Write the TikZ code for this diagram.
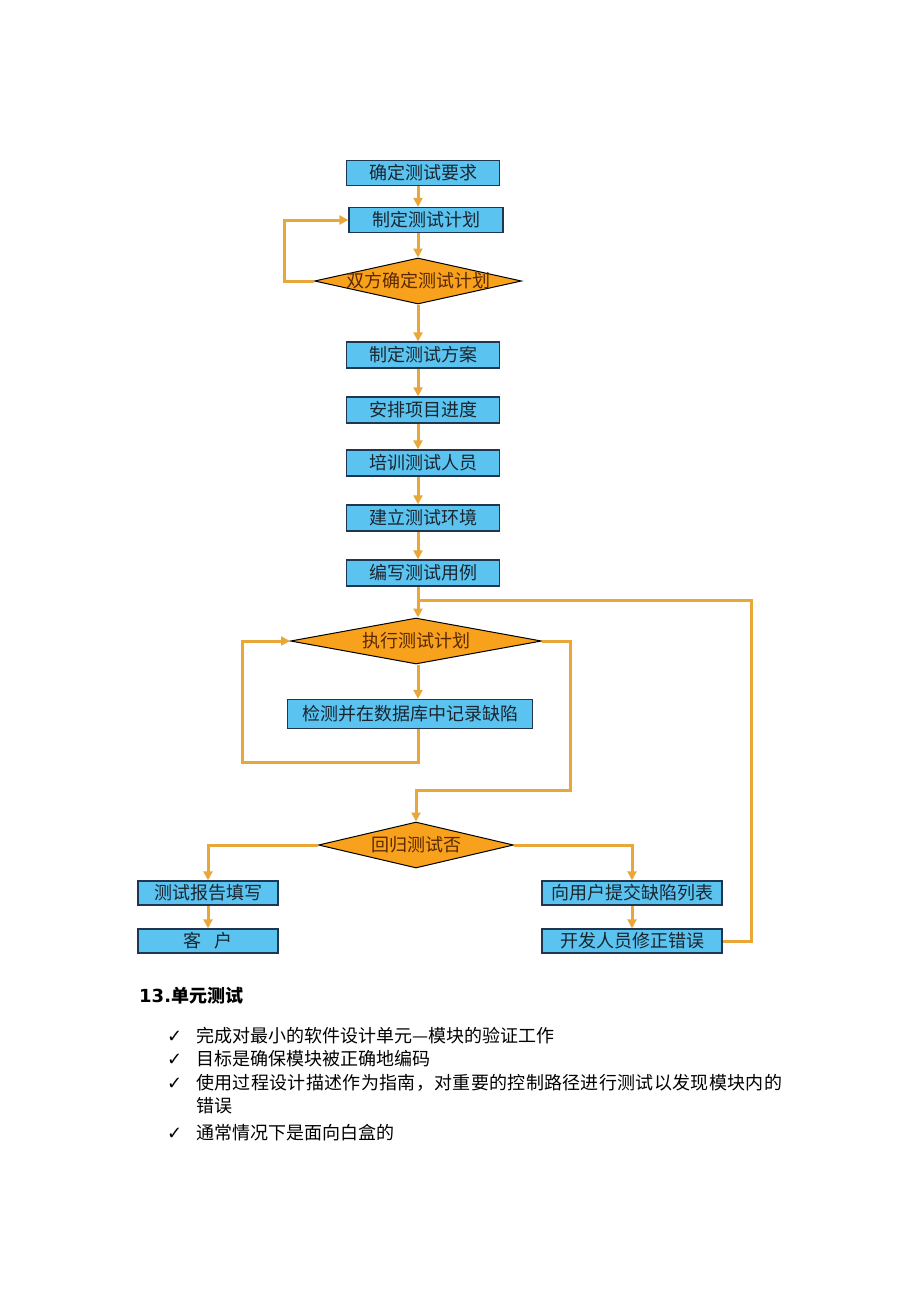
\documentclass[tikz,border=0pt]{standalone}
\usepackage{fontspec}
\newfontfamily\cjk{Noto Sans CJK SC}
\newfontfamily\cjkwide[LetterSpace=1.8]{Noto Sans CJK SC}
\newfontfamily\dejavu{DejaVu Sans}
\usetikzlibrary{shapes.geometric,arrows.meta}
\definecolor{boxblue}{HTML}{5BC3EF}
\definecolor{boxline}{HTML}{1F3550}
\definecolor{dorange}{HTML}{F8A11C}
\definecolor{arr}{HTML}{E9A73A}
\definecolor{dtext}{HTML}{5A2800}
\definecolor{btext}{HTML}{1A2530}
\begin{document}
\begin{tikzpicture}[x=1pt,y=-1pt,
  stepbox/.style={draw=boxline, line width=1.3pt, fill=boxblue, minimum height=25pt, inner sep=0pt,
    font=\cjk\fontsize{18}{18}\selectfont, text=btext},
  decision/.style={diamond, draw=black, line width=1pt, fill=dorange, inner sep=0pt, minimum height=46pt},
  dlabel/.style={font=\cjk\fontsize{18}{18}\selectfont, text=dtext},
  flow/.style={draw=arr, line width=3pt, -{Triangle[length=9pt,width=9pt]}},
  plain/.style={draw=arr, line width=3pt},
  bullet/.style={anchor=base west, font=\cjk\fontsize{18}{18}\selectfont, text=black, inner sep=0pt},
  tick/.style={anchor=base west, font=\dejavu\bfseries\fontsize{18}{18}\selectfont, text=black, inner sep=0pt}]
\useasboundingbox (0,0) rectangle (920,1302);
\coordinate (sp) at (418,0);

\node[stepbox, minimum width=153pt] (b1) at (423,173) {确定测试要求};
\node[stepbox, minimum width=154pt] (b2) at (426,220) {制定测试计划};
\node[decision, minimum width=207pt] (d1) at (418,281) {};
\node[dlabel] at (d1.center) {双方确定测试计划};
\node[stepbox, minimum width=153pt, minimum height=26pt] (b3) at (423,355) {制定测试方案};
\node[stepbox, minimum width=153pt, minimum height=26pt] (b4) at (423,410) {安排项目进度};
\node[stepbox, minimum width=153pt, minimum height=26pt] (b5) at (423,463) {培训测试人员};
\node[stepbox, minimum width=153pt, minimum height=26pt] (b6) at (423,518) {建立测试环境};
\node[stepbox, minimum width=153pt, minimum height=26pt] (b7) at (423,573) {编写测试用例};
\node[decision, minimum width=251pt] (d2) at (416,641) {};
\node[dlabel] at (d2.center) {执行测试计划};
\node[stepbox, minimum width=245pt, minimum height=29pt] (b8) at (410,714) {检测并在数据库中记录缺陷};
\node[decision, minimum width=195pt] (d3) at (416,845) {};
\node[dlabel] at (d3.center) {回归测试否};
\node[stepbox, minimum width=140pt, minimum height=24pt] (b9) at (208,893) {测试报告填写};
\node[stepbox, minimum width=140pt, minimum height=24pt] (b10) at (208,941) {客\hspace{14pt}户};
\node[stepbox, minimum width=180pt, minimum height=24pt] (b11) at (632,893) {向用户提交缺陷列表};
\node[stepbox, minimum width=180pt, minimum height=24pt] (b12) at (632,941) {开发人员修正错误};

% main spine
\draw[flow] (b1.south -| sp) -- (b2.north -| sp);
\draw[flow] (b2.south -| sp) -- (d1.north);
\draw[flow] (d1.west) -- ++(-30,0) |- (b2.west);
\draw[flow] (d1.south) -- (b3.north -| d1.south);
\draw[flow] (b3.south -| sp) -- (b4.north -| sp);
\draw[flow] (b4.south -| sp) -- (b5.north -| sp);
\draw[flow] (b5.south -| sp) -- (b6.north -| sp);
\draw[flow] (b6.south -| sp) -- (b7.north -| sp);
\draw[flow] (b7.south -| sp) -- (d2.north -| sp);
\draw[flow] (d2.south -| sp) -- (b8.north -| sp);

% inner loop
\coordinate (ll) at (242,762);
\draw[flow] (b8.south -| sp) |- (ll) |- (d2.west);

% to regression decision
\coordinate (rr) at (570,790);
\draw[flow] (d2.east) -| (rr) -| (d3.north);

% branches
\draw[flow] (d3.west) -| (b9.north);
\draw[flow] (d3.east) -| (b11.north);
\draw[flow] (b9.south) -- (b10.north);
\draw[flow] (b11.south) -- (b12.north);

% feedback
\coordinate (fb) at (751,600);
\coordinate (fj) at (418,600);
\draw[plain] (b12.east) -| (fb) -- (fj);

% text section
\node[anchor=base west, inner sep=0pt, font=\fontsize{18}{18}\selectfont] (h) at (139,1002)
  {{\dejavu\bfseries 13.}{\cjk\bfseries 单元测试}};
\node[tick] (t1) at (167,1042) {✓};
\node[bullet] (l1) at (196,1042) {完成对最小的软件设计单元—模块的验证工作};
\node[tick] (t2) at (167,1065) {✓};
\node[bullet] (l2) at (196,1065) {目标是确保模块被正确地编码};
\node[tick] (t3) at (167,1089) {✓};
\node[bullet, font=\cjkwide\fontsize{18}{18}\selectfont] (l3) at (196,1089) {使用过程设计描述作为指南，对重要的控制路径进行测试以发现模块内的};
\node[bullet] (l3b) at (196,1112) {错误};
\node[tick] (t4) at (167,1139) {✓};
\node[bullet] (l4) at (196,1139) {通常情况下是面向白盒的};
\end{tikzpicture}
\end{document}
